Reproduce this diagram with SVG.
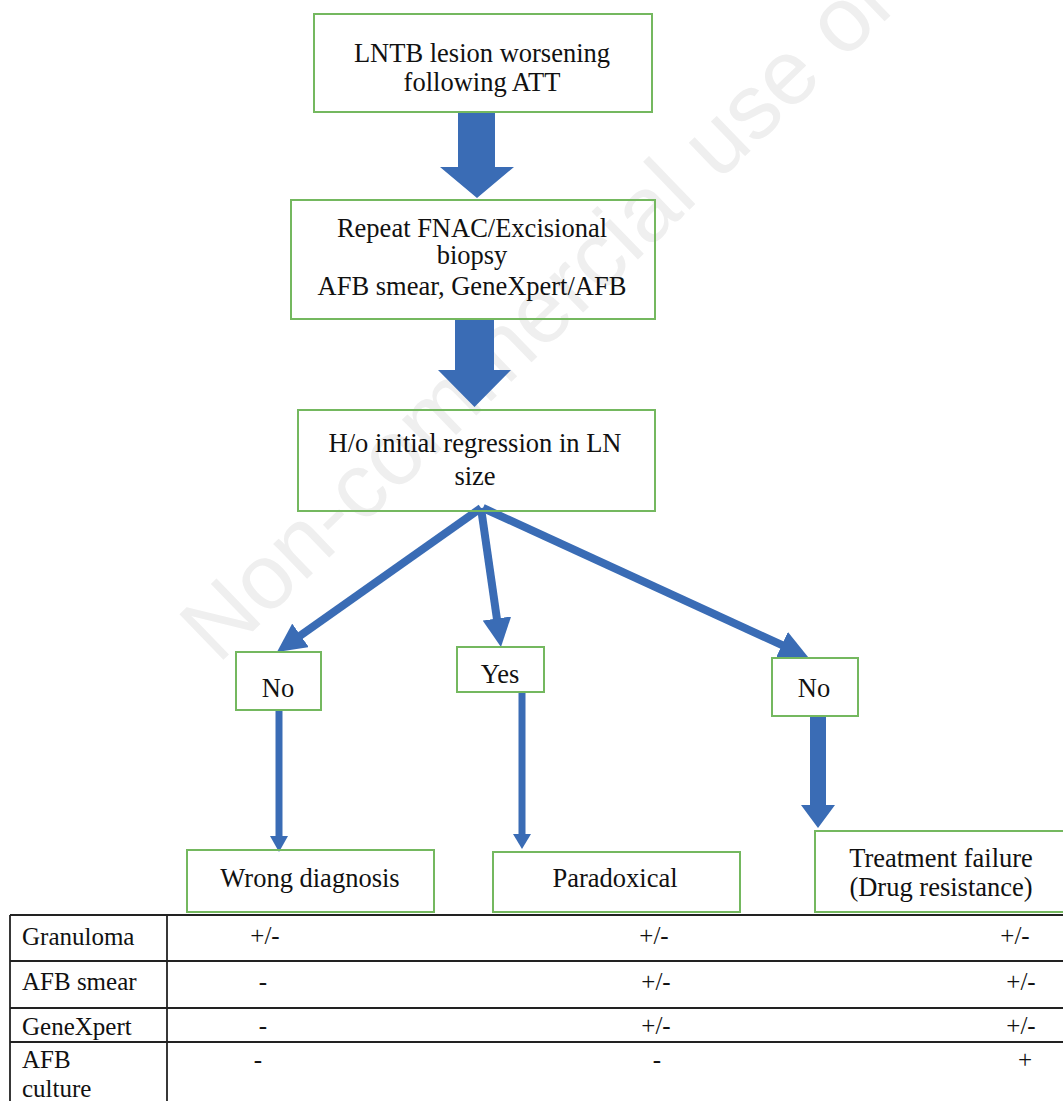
<svg xmlns="http://www.w3.org/2000/svg" width="1063" height="1101" viewBox="0 0 1063 1101">
<style>
.box{fill:none;stroke:#74b85f;stroke-width:2}
.t{font-family:'Liberation Serif',serif;font-size:26.5px;fill:#111;text-anchor:middle}
.tl{font-family:'Liberation Serif',serif;font-size:25px;fill:#111}
.tc{font-family:'Liberation Serif',serif;font-size:25px;fill:#111;text-anchor:middle}
.blk{fill:#3a6cb5}
.ln{stroke:#3a6cb5;stroke-width:8;fill:none;marker-end:url(#ah)}
.thin{stroke:#3a6cb5;stroke-width:7;fill:none}
.tb{stroke:#222;stroke-width:1.8;fill:none}
</style>
<defs>
<marker id="ah" viewBox="0 0 10 10" refX="2" refY="5" markerWidth="3.6" markerHeight="3.6" orient="auto">
<path d="M0,0 L10,5 L0,10 z" fill="#3a6cb5"/>
</marker>
</defs>
<rect width="1063" height="1101" fill="#fff"/>
<text id="watermark" transform="translate(218,665) rotate(-44)" font-family="Liberation Sans, Arial, sans-serif" font-size="92" fill="#efefef">Non-commercial use only</text>

<g id="connectors">
<polygon class="blk" points="458,112 495,112 495,167 514,167 477,198 440,167 458,167"/>
<polygon class="blk" points="455,320 494,320 494,370 511,370 474.5,407 438,370 455,370"/>
<line class="ln" x1="481" y1="508" x2="295.8" y2="638.7"/>
<line class="ln" x1="481" y1="508" x2="497.7" y2="624.2"/>
<line class="ln" x1="483" y1="508" x2="787.1" y2="647.4"/>
<line class="thin" x1="279" y1="710" x2="279" y2="838"/>
<polygon class="blk" points="270,836 288,836 279,852"/>
<line class="thin" x1="522" y1="692" x2="522" y2="836"/>
<polygon class="blk" points="513,834 531,834 522,849"/>
<polygon class="blk" points="810,716 826,716 826,805 835,805 818,828 801,805 810,805"/>
</g>

<g id="n1"><rect class="box" x="314" y="14" width="338" height="98"/>
<text class="t" x="482" y="62">LNTB lesion worsening</text>
<text class="t" x="482" y="91">following ATT</text></g>

<g id="n2"><rect class="box" x="291" y="200" width="364" height="119"/>
<text class="t" x="472" y="237">Repeat FNAC/Excisional</text>
<text class="t" x="472" y="264">biopsy</text>
<text class="t" x="472" y="295">AFB smear, GeneXpert/AFB</text></g>

<g id="n3"><rect class="box" x="298" y="410" width="357" height="101"/>
<text class="t" x="475" y="452">H/o initial regression in LN</text>
<text class="t" x="475" y="485">size</text></g>

<g id="n4"><rect class="box" x="236" y="652" width="85" height="58"/>
<text class="t" x="278" y="697">No</text></g>

<g id="n5"><rect class="box" x="457" y="647" width="87" height="45"/>
<text class="t" x="500" y="683">Yes</text></g>

<g id="n6"><rect class="box" x="772" y="658" width="86" height="58"/>
<text class="t" x="814" y="697">No</text></g>

<g id="n7"><rect class="box" x="187" y="850" width="247" height="62"/>
<text class="t" x="310" y="887">Wrong diagnosis</text></g>

<g id="n8"><rect class="box" x="493" y="852" width="247" height="60"/>
<text class="t" x="615" y="887">Paradoxical</text></g>

<g id="n9"><rect class="box" x="815" y="831" width="260" height="81"/>
<text class="t" x="941" y="867">Treatment failure</text>
<text class="t" x="941" y="896">(Drug resistance)</text></g>

<g id="table">
<line class="tb" x1="10" y1="915" x2="1063" y2="915" stroke-width="2.6"/>
<line class="tb" x1="10" y1="961" x2="1063" y2="961"/>
<line class="tb" x1="10" y1="1008" x2="1063" y2="1008"/>
<line class="tb" x1="10" y1="1042" x2="1063" y2="1042"/>
<line class="tb" x1="10" y1="915" x2="10" y2="1101"/>
<line class="tb" x1="167" y1="915" x2="167" y2="1101"/>
<text class="tl" x="22" y="945">Granuloma</text>
<text class="tl" x="22" y="990">AFB smear</text>
<text class="tl" x="22" y="1035">GeneXpert</text>
<text class="tl" x="22" y="1068">AFB</text>
<text class="tl" x="22" y="1097">culture</text>
<text class="tc" x="265" y="944">+/-</text>
<text class="tc" x="654" y="944">+/-</text>
<text class="tc" x="1015" y="944">+/-</text>
<text class="tc" x="263" y="990">-</text>
<text class="tc" x="656" y="990">+/-</text>
<text class="tc" x="1021" y="990">+/-</text>
<text class="tc" x="263" y="1034">-</text>
<text class="tc" x="656" y="1034">+/-</text>
<text class="tc" x="1021" y="1034">+/-</text>
<text class="tc" x="258" y="1068">-</text>
<text class="tc" x="657" y="1068">-</text>
<text class="tc" x="1025" y="1068">+</text>
</g>
</svg>
